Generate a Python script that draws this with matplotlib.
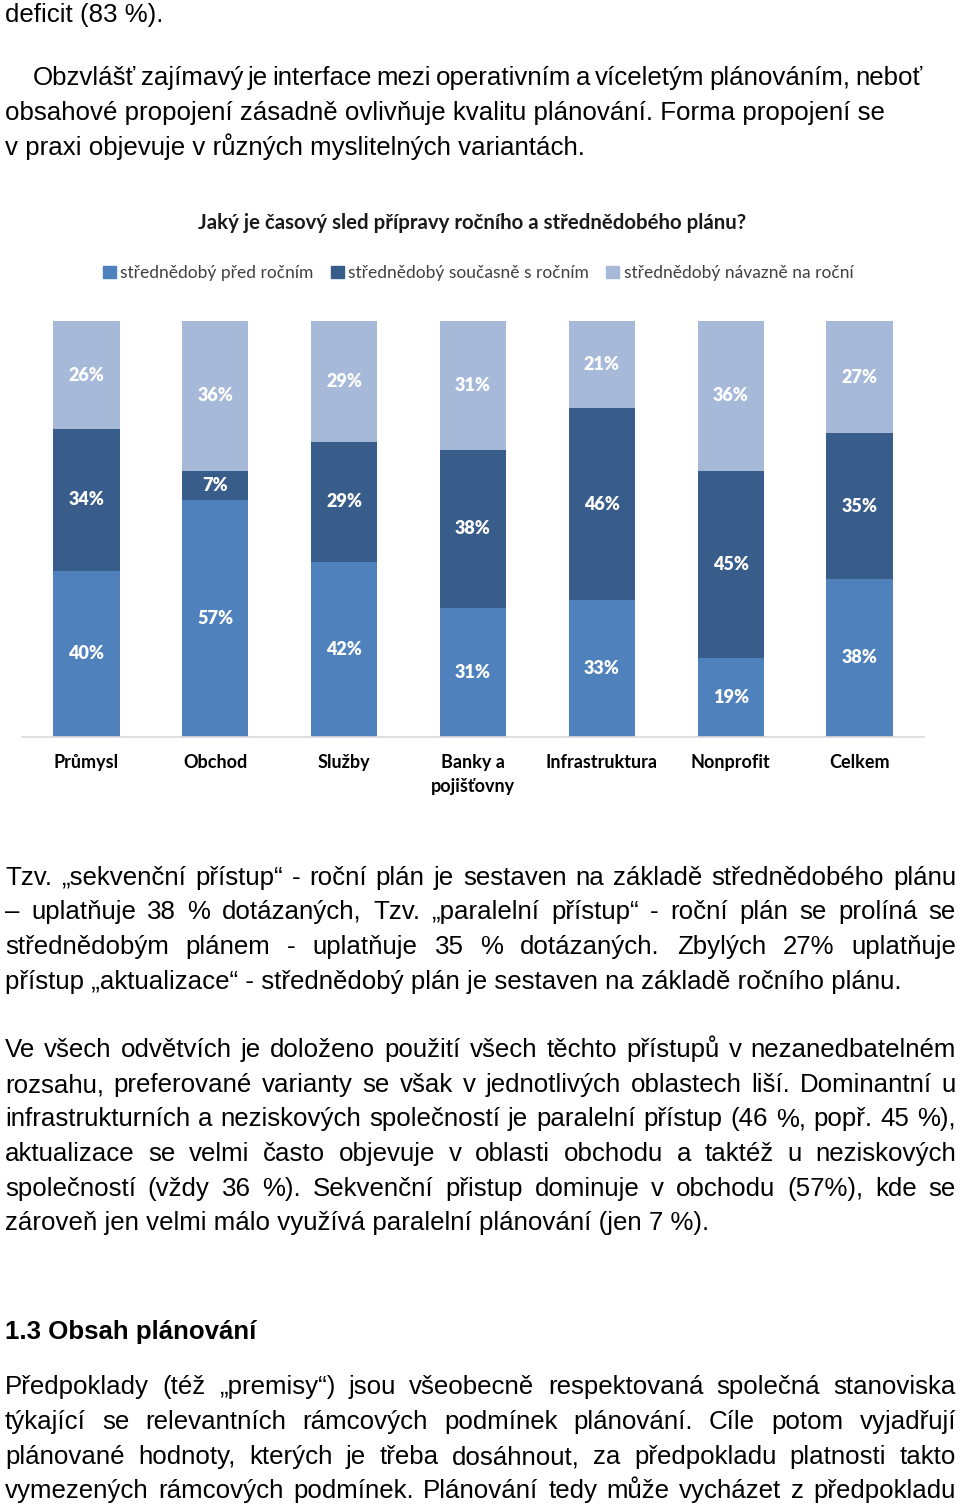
import matplotlib
matplotlib.use("Agg")
import matplotlib.pyplot as plt
import matplotlib.transforms as mtransforms
from matplotlib.patches import Patch

# chart data
categories = ["Průmysl", "Obchod", "Služby", "Banky a\npojišťovny", "Infrastruktura", "Nonprofit", "Celkem"]
pred_rocnim = [40, 57, 42, 31, 33, 19, 38]
soucasne = [34, 7, 29, 38, 46, 45, 35]
navazne = [26, 36, 29, 31, 21, 36, 27]
series_names = ["střednědobý před ročním", "střednědobý současně s ročním", "střednědobý návazně na roční"]
series_colors = ["#4F81BD", "#385D8A", "#A7B9D9"]
chart_title = "Jaký je časový sled přípravy ročního a střednědobého plánu?"

# page text (line by line, as laid out on the page)
para_top = [
    ("deficit (83 %).", 5),
    ("Obzvlášť zajímavý je interface mezi operativním a víceletým plánováním, neboť", 33),
    ("obsahové propojení zásadně ovlivňuje kvalitu plánování. Forma propojení se", 5),
    ("v praxi objevuje v různých myslitelných variantách.", 5),
]
top_y = [13, 76, 111, 146]

para_1 = [
    "Tzv. „sekvenční přístup“  - roční plán je sestaven na základě střednědobého plánu",
    "– uplatňuje 38 % dotázaných, Tzv. „paralelní přístup“  - roční plán se prolíná se",
    "střednědobým plánem  - uplatňuje 35 % dotázaných. Zbylých 27% uplatňuje",
    "přístup „aktualizace“ - střednědobý plán je sestaven na základě ročního plánu.",
]
para_1_y = [876, 910, 945, 980]

para_2 = [
    "Ve všech odvětvích je doloženo použití všech těchto přístupů v nezanedbatelném",
    "rozsahu, preferované varianty se však v jednotlivých oblastech liší. Dominantní u",
    "infrastrukturních a neziskových společností je paralelní přístup (46 %, popř. 45 %),",
    "aktualizace se velmi často objevuje v oblasti obchodu a taktéž u neziskových",
    "společností (vždy 36 %). Sekvenční přistup dominuje v obchodu (57%), kde se",
    "zároveň jen velmi málo využívá paralelní plánování (jen 7 %).",
]
para_2_y = [1048, 1083, 1117, 1152, 1187, 1221]

heading = "1.3 Obsah plánování"
heading_y = 1330

para_3 = [
    "Předpoklady (též „premisy“) jsou všeobecně respektovaná společná stanoviska",
    "týkající se relevantních rámcových podmínek plánování. Cíle potom vyjadřují",
    "plánované hodnoty, kterých je třeba dosáhnout, za předpokladu platnosti takto",
    "vymezených rámcových podmínek. Plánování tedy může vycházet z předpokladu",
]
para_3_y = [1385, 1420, 1455, 1489]

W, H = 960, 1504
BODY = dict(family="Liberation Sans", fontsize=18.6, color="black")
CHART_FONT = "Lato"

fig = plt.figure(figsize=(W / 100, H / 100), dpi=100)
pix = mtransforms.IdentityTransform()
renderer = fig.canvas.get_renderer()


def put_line(text, y, x0=5, x1=956, justify=True, **kw):
    """draw one text line, y = visual centre from the top of the page"""
    base = H - (y + 9)
    if not justify:
        fig.text(x0, base, text, transform=pix, va="baseline", ha="left", **kw)
        return
    words = text.split()
    widths = []
    for w in words:
        t = fig.text(0, 0, w, transform=pix, **kw)
        widths.append(t.get_window_extent(renderer).width)
        t.remove()
    gap = (x1 - x0 - sum(widths)) / max(len(words) - 1, 1)
    x = x0
    for w, wd in zip(words, widths):
        fig.text(x, base, w, transform=pix, va="baseline", ha="left", **kw)
        x += wd + gap


for (txt, x0), y in zip(para_top, top_y):
    # the first line of this paragraph is set a bit tighter in the source
    if x0 > 5:
        put_line(txt, y, x0=x0, x1=922, justify=True, **BODY)
    else:
        put_line(txt, y, x0=x0, justify=False, **BODY)

for lines, ys in [(para_1, para_1_y), (para_2, para_2_y), (para_3, para_3_y)]:
    for i, (txt, y) in enumerate(zip(lines, ys)):
        last = (i == len(lines) - 1) and lines is not para_3
        put_line(txt, y, justify=not last, **BODY)

put_line(heading, heading_y, justify=False, fontweight="bold", **BODY)

# ---- chart ----
ax = fig.add_axes([22 / W, 1 - 737 / H, 902 / W, 416 / H])
x = range(len(categories))
bottom2 = [a for a in pred_rocnim]
bottom3 = [a + b for a, b in zip(pred_rocnim, soucasne)]
for vals, bot, col, name in zip([pred_rocnim, soucasne, navazne], [None, bottom2, bottom3],
                                series_colors, series_names):
    c = ax.bar(x, vals, width=0.515, bottom=bot, color=col, label=name)
    ax.bar_label(c, labels=[f"{v}%" for v in vals], label_type="center", color="white",
                 fontweight="heavy", fontsize=13, family=CHART_FONT)

ax.set_xlim(-0.5, len(categories) - 0.5)
ax.set_ylim(0, 100)
for s in ["top", "right", "left"]:
    ax.spines[s].set_visible(False)
ax.spines["bottom"].set_color("#D9D9D9")
ax.spines["bottom"].set_linewidth(1.2)
ax.set_yticks([])
ax.set_xticks(list(x))
ax.set_xticklabels(categories, fontweight="bold", fontsize=13, family=CHART_FONT,
                   linespacing=1.55)
ax.tick_params(axis="x", length=0, pad=12)

fig.text(472 / W, 1 - 223 / H, chart_title, ha="center", va="center",
         fontsize=14.7, fontweight="bold", family=CHART_FONT, color="#1a1a1a")

handles = [Patch(color=c, label=n) for c, n in zip(series_colors, series_names)]
fig.legend(handles=handles, loc="center", bbox_to_anchor=(478 / W, 1 - 273 / H), ncol=3,
           frameon=False, handlelength=0.75, handleheight=0.75, handletextpad=0.25,
           columnspacing=1.0, prop={"family": CHART_FONT, "size": 12.5})
for t in fig.legends[0].get_texts():
    t.set_color("#404040")

fig.savefig("out.png", dpi=100)
